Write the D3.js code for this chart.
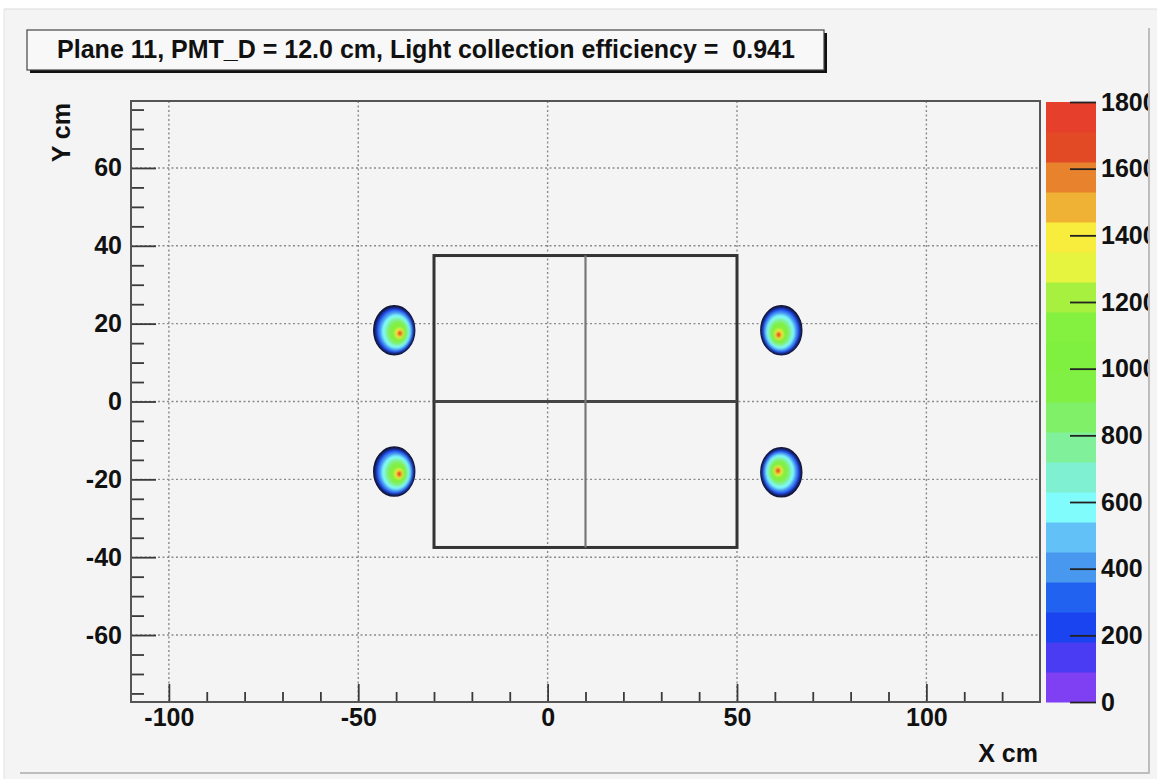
<!DOCTYPE html>
<html>
<head>
<meta charset="utf-8">
<script src="https://cdn.jsdelivr.net/npm/d3@7"></script>
<style>
  body { margin: 0; background: #fff; }
  svg { display: block; font-family: "Liberation Sans", Arial, Helvetica, sans-serif; font-weight: bold; }
</style>
</head>
<body>
<div id="chart"></div>
<script>
// values
var titleText = "Plane 11, PMT_D = 12.0 cm, Light collection efficiency =  0.941";
var xDomain = [-110, 130];
var yDomain = [-77.2, 77.2];
var xMajor = [-100, -50, 0, 50, 100];
var yMajor = [-60, -40, -20, 0, 20, 40, 60];
var zMax = 1800;
var zTicks = [0, 200, 400, 600, 800, 1000, 1200, 1400, 1600, 1800];

// ROOT palette, 20 bands of 90 counts, from 0 up to 1800
var palette = ["#7f3ff2", "#4a3cf2", "#1a44f0", "#2262f0", "#4898f0",
               "#62c2f8", "#80fcfc", "#80f0d2", "#80f09a", "#80f068",
               "#80f044", "#80f040", "#84f040", "#a8f040", "#e6f440",
               "#f8ec3c", "#f0b234", "#e8822c", "#e24a26", "#e6402c"];

// light-guide box outline and its dividing lines (cm)
var boxX = [-30, 50];
var boxY = [-37.5, 37.5];
var dividerX = 10;
var dividerY = 0;

// the four PMT spots: centre and offset of the hottest point (cm)
var spotX = [-40.5, -40.5, 61.7, 61.7];
var spotY = [18.3, -18.0, 18.3, -18.2];
var hotDX = [1.7, 1.5, -0.8, -1.0];
var hotDY = [-0.9, -0.7, -1.3, 0.5];
var spotRX = 5.4, spotRY = 6.3;
// contour levels of a spot: counts and relative radius
var levelValue = [250, 430, 580, 760, 950, 1150, 1400, 1650];
var levelFrac  = [0.93, 0.82, 0.7, 0.58, 0.46, 0.32, 0.21, 0.12];

var W = 1157, H = 779;
var pLeft = 131, pRight = 1040, pTop = 101, pBottom = 702;

var svg = d3.select("#chart").append("svg")
    .attr("width", W)
    .attr("height", H);

// canvas
svg.append("rect").attr("width", W).attr("height", H).attr("fill", "#fff");
svg.append("rect").attr("x", 4).attr("y", 9).attr("width", W - 4).attr("height", H - 9).attr("fill", "#f4f4f4");
svg.append("line").attr("x1", 4).attr("x2", W).attr("y1", 9).attr("y2", 9).attr("stroke", "#dcdcdc");
svg.append("line").attr("x1", 4).attr("x2", 4).attr("y1", 9).attr("y2", H).attr("stroke", "#e2e2e2");
svg.append("path").attr("d", "M20,773 H1149 V28")
    .attr("fill", "none").attr("stroke", "#bdbdbd").attr("stroke-width", 2);

var x = d3.scaleLinear().domain(xDomain).range([pLeft, pRight]);
var y = d3.scaleLinear().domain(yDomain).range([pBottom, pTop]);
var z = d3.scaleLinear().domain([0, zMax]).range([702, 102]);
var color = d3.scaleQuantize().domain([0, zMax]).range(palette);

// grid
var grid = svg.append("g")
    .attr("stroke", "#8a8a8a")
    .attr("stroke-width", 1.4)
    .attr("stroke-dasharray", "2,2.5");
grid.selectAll(".gx").data(xMajor).join("line")
    .attr("class", "gx")
    .attr("x1", d => x(d)).attr("x2", d => x(d))
    .attr("y1", pTop).attr("y2", pBottom);
grid.selectAll(".gy").data(yMajor).join("line")
    .attr("class", "gy")
    .attr("y1", d => y(d)).attr("y2", d => y(d))
    .attr("x1", pLeft).attr("x2", pRight);

// box
svg.append("rect")
    .attr("x", x(boxX[0])).attr("y", y(boxY[1]))
    .attr("width", x(boxX[1]) - x(boxX[0]))
    .attr("height", y(boxY[0]) - y(boxY[1]))
    .attr("fill", "none").attr("stroke", "#333").attr("stroke-width", 3);
svg.append("line")
    .attr("x1", x(boxX[0])).attr("x2", x(boxX[1]))
    .attr("y1", y(dividerY)).attr("y2", y(dividerY))
    .attr("stroke", "#444").attr("stroke-width", 3);
svg.append("line")
    .attr("x1", x(dividerX)).attr("x2", x(dividerX))
    .attr("y1", y(boxY[1])).attr("y2", y(boxY[0]))
    .attr("stroke", "#777").attr("stroke-width", 2.2);

// spots
var defs = svg.append("defs");
defs.append("filter").attr("id", "soft")
    .append("feGaussianBlur").attr("stdDeviation", 1.1);

var spots = svg.append("g");
spotX.forEach(function (sx, i) {
    var sy = spotY[i];
    var rx = x(sx + spotRX) - x(sx);
    var ry = y(sy) - y(sy + spotRY);
    spots.append("ellipse")
        .attr("cx", x(sx)).attr("cy", y(sy))
        .attr("rx", rx).attr("ry", ry)
        .attr("fill", "#141634").attr("stroke", "#141634").attr("stroke-width", 1.5);
    var inner = spots.append("g").attr("filter", "url(#soft)");
    levelValue.forEach(function (v, k) {
        var f = levelFrac[k];
        var cx = sx + hotDX[i] * (1 - f);
        var cy = sy + hotDY[i] * (1 - f);
        inner.append("ellipse")
            .attr("cx", x(cx)).attr("cy", y(cy))
            .attr("rx", rx * f).attr("ry", ry * f)
            .attr("fill", color(v));
    });
});

// axes
function fmt(d) { return String(d); }

var xAx = svg.append("g")
    .attr("transform", "translate(0," + pBottom + ")")
    .call(d3.axisBottom(x).tickValues(xMajor).tickSizeInner(-18).tickSizeOuter(0).tickPadding(6).tickFormat(fmt));
var xMinor = d3.range(-100, 130, 10).filter(v => xMajor.indexOf(v) < 0);
var xAx2 = svg.append("g")
    .attr("transform", "translate(0," + pBottom + ")")
    .call(d3.axisBottom(x).tickValues(xMinor).tickSizeInner(-10).tickSizeOuter(0).tickFormat(""));

var yAx = svg.append("g")
    .attr("transform", "translate(" + pLeft + ",0)")
    .call(d3.axisLeft(y).tickValues(yMajor).tickSizeInner(-25).tickSizeOuter(0).tickPadding(9).tickFormat(fmt));
var yMinor = d3.range(-75, 76, 5).filter(v => yMajor.indexOf(v) < 0);
var yAx2 = svg.append("g")
    .attr("transform", "translate(" + pLeft + ",0)")
    .call(d3.axisLeft(y).tickValues(yMinor).tickSizeInner(-13).tickSizeOuter(0).tickFormat(""));

[xAx, xAx2, yAx, yAx2].forEach(function (g) {
    g.select(".domain").remove();
    g.selectAll(".tick line").attr("stroke", "#3a3a3a").attr("stroke-width", 1.8);
    g.selectAll("text").attr("font-size", 25).attr("fill", "#111")
        .attr("font-family", "Liberation Sans, Arial, sans-serif").attr("font-weight", "bold");
});

// frame
svg.append("rect")
    .attr("x", pLeft).attr("y", pTop)
    .attr("width", pRight - pLeft).attr("height", pBottom - pTop)
    .attr("fill", "none").attr("stroke", "#555").attr("stroke-width", 2);

// colour bar
var barX0 = 1046, barX1 = 1096;
svg.append("g").selectAll("rect").data(palette).join("rect")
    .attr("x", barX0)
    .attr("y", (d, i) => z((i + 1) * zMax / palette.length))
    .attr("width", barX1 - barX0)
    .attr("height", (d, i) => z(i * zMax / palette.length) - z((i + 1) * zMax / palette.length) + 0.5)
    .attr("fill", d => d);

defs.append("clipPath").attr("id", "clipZ")
    .append("rect").attr("x", 0).attr("y", 0).attr("width", 1148).attr("height", H);

var zWrap = svg.append("g").attr("clip-path", "url(#clipZ)");
var zAx = zWrap.append("g")
    .attr("transform", "translate(" + barX1 + ",0)")
    .call(d3.axisRight(z).tickValues(zTicks).tickSizeInner(-26).tickSizeOuter(0).tickPadding(5).tickFormat(fmt));
zAx.select(".domain").remove();
zAx.selectAll(".tick line").attr("stroke", "#222").attr("stroke-width", 1.8);
zAx.selectAll("text").attr("font-size", 25).attr("fill", "#111")
    .attr("font-family", "Liberation Sans, Arial, sans-serif").attr("font-weight", "bold");

// axis titles
svg.append("text")
    .attr("transform", "translate(70," + (pTop + 2) + ") rotate(-90)")
    .attr("text-anchor", "end")
    .attr("font-size", 25).attr("fill", "#111")
    .text("Y cm");
svg.append("text")
    .attr("x", 1038).attr("y", 762)
    .attr("text-anchor", "end")
    .attr("font-size", 25).attr("fill", "#111")
    .text("X cm");

// title box
svg.append("rect")
    .attr("x", 30).attr("y", 33).attr("width", 797).attr("height", 40)
    .attr("fill", "#111");
svg.append("rect")
    .attr("x", 27).attr("y", 30).attr("width", 797).attr("height", 40)
    .attr("fill", "#f8f8f8").attr("stroke", "#444").attr("stroke-width", 1.2);
svg.append("text")
    .attr("x", 426).attr("y", 58)
    .attr("text-anchor", "middle")
    .attr("font-size", 25).attr("fill", "#111")
    .style("white-space", "pre")
    .text(titleText);
</script>
</body>
</html>
